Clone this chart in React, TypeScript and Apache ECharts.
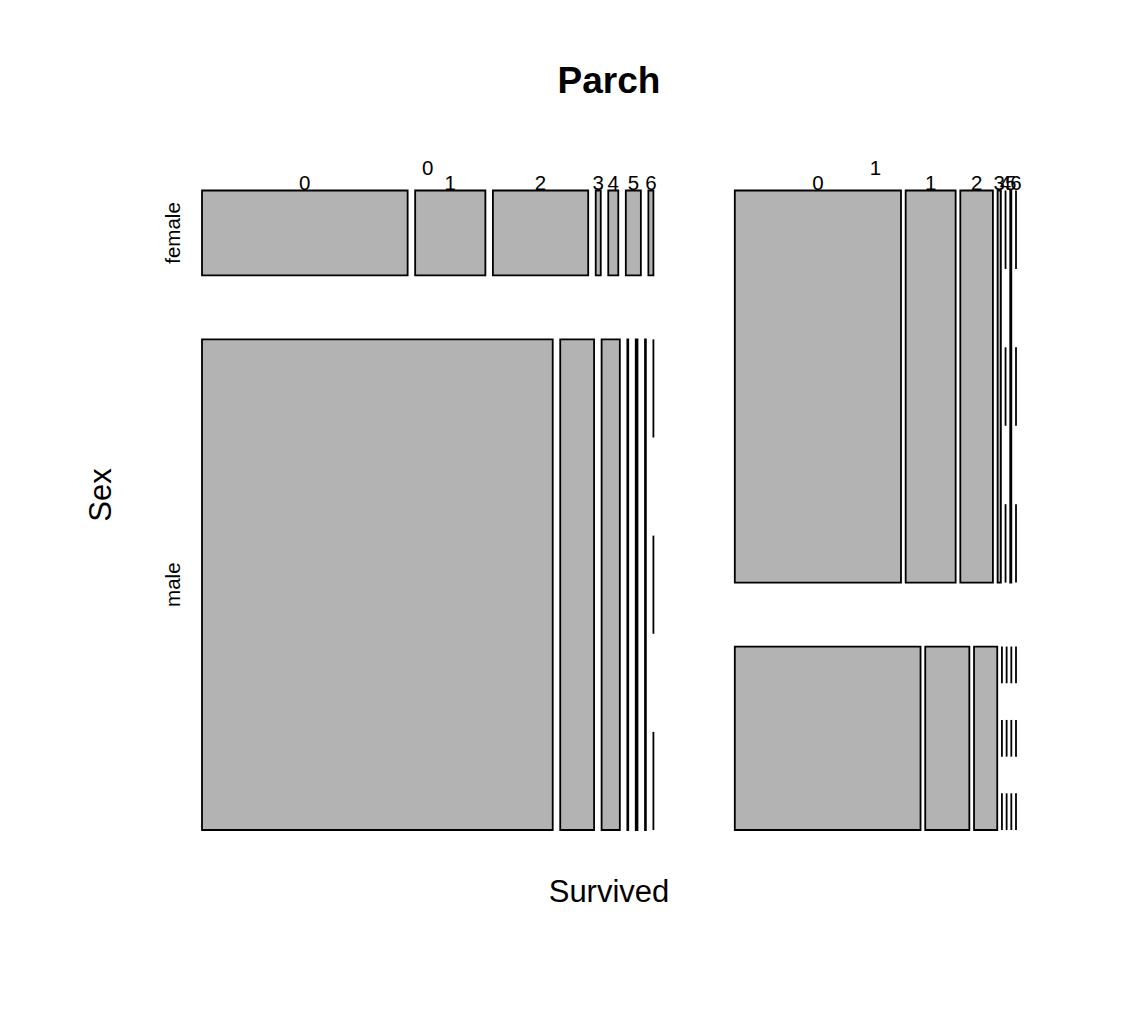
import React, { useEffect, useRef } from "react";
import * as echarts from "echarts";

const survivedLevels = ["0", "1"];
const sexLevels = ["female", "male"];
const parchLevels = ["0", "1", "2", "3", "4", "5", "6"];
// counts[survived][sex][parch]
const diedFemale = [41, 14, 19, 1, 2, 3, 1];
const diedMale = [404, 39, 21, 1, 2, 1, 0];
const survFemale = [153, 46, 30, 3, 0, 1, 0];
const survMale = [80, 19, 10, 0, 0, 0, 0];

const counts = [
  [diedFemale, diedMale],
  [survFemale, survMale],
];

const OFF = 0.1;
const FONT = "Liberation Sans, Arial, Helvetica, sans-serif";

type Cell = { x0: number; x1: number; y0: number; y1: number; zero: boolean };
type Label = { x: number; y: number; text: string; kind: "surv" | "parch" | "sex" };

function splitRange(a: number, b: number, vals: number[]) {
  const tot = vals.reduce((s, v) => s + v, 0);
  const n = vals.length;
  const white = (OFF * (b - a)) / Math.max(1, n - 1);
  const out: [number, number][] = [];
  let r = a;
  vals.forEach((v, i) => {
    const l = i === 0 ? a : r + white;
    const w = (1 - OFF) * (tot > 0 ? v / tot : 0) * (b - a);
    out.push([l, l + w]);
    r = l + w;
  });
  return out;
}

function buildMosaic() {
  const cells: Cell[] = [];
  const labels: Label[] = [];
  const survTotals = counts.map((s) => s.reduce((a, sx) => a + sx.reduce((p, q) => p + q, 0), 0));
  const cols = splitRange(0, 1, survTotals);
  cols.forEach(([cx0, cx1], si) => {
    labels.push({ x: (cx0 + cx1) / 2, y: 0, text: survivedLevels[si], kind: "surv" });
    const sexTotals = counts[si].map((a) => a.reduce((p, q) => p + q, 0));
    const rows = splitRange(0, 1, sexTotals);
    rows.forEach(([ry0, ry1], xi) => {
      if (si === 0) labels.push({ x: 0, y: (ry0 + ry1) / 2, text: sexLevels[xi], kind: "sex" });
      const parts = splitRange(cx0, cx1, counts[si][xi]);
      parts.forEach(([px0, px1], pi) => {
        const zero = counts[si][xi][pi] === 0;
        cells.push({ x0: px0, x1: px1, y0: ry0, y1: ry1, zero });
        if (xi === 0) {
          labels.push({ x: zero ? px0 : (px0 + px1) / 2, y: 0, text: parchLevels[pi], kind: "parch" });
        }
      });
    });
  });
  return { cells, labels };
}

export default function App() {
  const ref = useRef<HTMLDivElement>(null);
  useEffect(() => {
    document.body.style.margin = "0";
    if (!ref.current) return;
    const chart = echarts.init(ref.current, null, { renderer: "svg" });
    const { cells, labels } = buildMosaic();
    const option: any = {
      animation: false,
      backgroundColor: "#ffffff",
      grid: { left: 202, right: 126, top: 190.5, bottom: 198, containLabel: false },
      xAxis: { type: "value", min: 0, max: 1, show: false },
      yAxis: { type: "value", min: 0, max: 1, inverse: true, show: false },
      graphic: [
        {
          type: "text",
          x: 609,
          y: 80,
          style: {
            text: "Parch",
            font: `bold 37px ${FONT}`,
            fill: "#000",
            textAlign: "center",
            textVerticalAlign: "middle",
          },
        },
        {
          type: "text",
          x: 609,
          y: 891,
          style: {
            text: "Survived",
            font: `31px ${FONT}`,
            fill: "#000",
            textAlign: "center",
            textVerticalAlign: "middle",
          },
        },
        {
          type: "text",
          x: 100,
          y: 495,
          rotation: Math.PI / 2,
          style: {
            text: "Sex",
            font: `31px ${FONT}`,
            fill: "#000",
            textAlign: "center",
            textVerticalAlign: "middle",
          },
        },
      ],
      series: [
        {
          type: "custom",
          clip: false,
          data: cells.map((c) => [c.x0, c.x1, c.y0, c.y1, c.zero ? 1 : 0]),
          encode: { x: [0, 1], y: [2, 3] },
          renderItem: (params: any, api: any) => {
            const x0 = api.value(0), x1 = api.value(1), y0 = api.value(2), y1 = api.value(3);
            const zero = api.value(4) === 1;
            const p0 = api.coord([x0, y0]);
            const p1 = api.coord([x1, y1]);
            if (zero) {
              const h = p1[1] - p0[1];
              const segs = [0, 2, 4].map((k) => ({
                type: "line",
                shape: { x1: p0[0], y1: p0[1] + (h * k) / 5, x2: p0[0], y2: p0[1] + (h * (k + 1)) / 5 },
                style: { stroke: "#000", lineWidth: 1.8 },
              }));
              return { type: "group", children: segs };
            }
            return {
              type: "rect",
              shape: { x: p0[0], y: p0[1], width: p1[0] - p0[0], height: p1[1] - p0[1] },
              style: { fill: "#B3B3B3", stroke: "#000", lineWidth: 1.8 },
            };
          },
        },
        {
          type: "custom",
          clip: false,
          data: labels.map((l) => [l.x, l.y]),
          encode: { x: 0, y: 1 },
          renderItem: (params: any, api: any) => {
            const l = labels[params.dataIndex];
            const p = api.coord([api.value(0), api.value(1)]);
            if (l.kind === "sex") {
              return {
                type: "text",
                x: p[0] - 30,
                y: p[1],
                rotation: Math.PI / 2,
                style: {
                  text: l.text,
                  font: `20.5px ${FONT}`,
                  fill: "#000",
                  textAlign: "center",
                  textVerticalAlign: "middle",
                },
              };
            }
            return {
              type: "text",
              x: p[0],
              y: p[1] - (l.kind === "surv" ? 23 : 8),
              style: {
                text: l.text,
                font: `20.5px ${FONT}`,
                fill: "#000",
                textAlign: "center",
                textVerticalAlign: "middle",
              },
            };
          },
        },
      ],
    };
    chart.setOption(option);
    return () => chart.dispose();
  }, []);
  return <div ref={ref} style={{ width: 1142, height: 1028 }} />;
}
